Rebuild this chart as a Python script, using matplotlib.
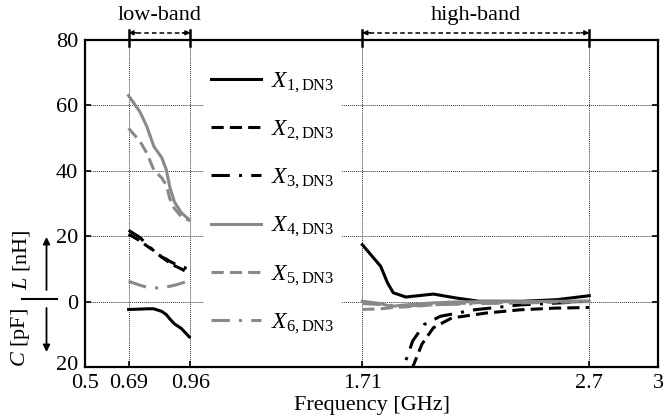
import matplotlib
matplotlib.use("Agg")
import matplotlib.pyplot as plt
import matplotlib.transforms as mtransforms
from matplotlib.lines import Line2D
from matplotlib.patches import FancyArrowPatch

plt.rcParams['font.family'] = ['Liberation Serif', 'DejaVu Serif']
plt.rcParams['mathtext.fontset'] = 'custom'
plt.rcParams['mathtext.rm'] = 'Liberation Serif'
plt.rcParams['mathtext.it'] = 'Liberation Serif:italic'

# ---- data: reactance-equivalent C / L values (L positive, C negative) ----
f_low = [0.69, 0.74, 0.77, 0.80, 0.835, 0.855, 0.87, 0.89, 0.92, 0.955]
x1_low = [-2.4, -2.3, -2.2, -2.2, -3.0, -4.0, -5.3, -6.8, -8.2, -10.8]
x2_low = [20.6, 18.6, 17.0, 15.6, 13.6, 12.6, 11.8, 11.0, 10.0, 8.6]
x3_low = [21.8, 19.6, 17.4, 15.6, 13.6, 13.0, 12.3, 11.6, 10.8, 9.8]
x4_low = [63.0, 58.0, 53.5, 47.5, 44.0, 40.3, 35.0, 30.5, 27.2, 25.0]
x5_low = [53.0, 49.0, 45.4, 40.3, 37.8, 35.6, 31.5, 28.5, 26.0, 24.8]
x6_low = [6.2, 5.0, 4.4, 4.2, 4.2, 4.4, 4.7, 5.0, 5.6, 6.4]

f_high = [1.71, 1.79, 1.82, 1.845, 1.90, 2.02, 2.12, 2.22, 2.41, 2.56, 2.70]
x1_high = [17.4, 10.8, 5.7, 2.7, 1.4, 2.3, 1.1, 0.1, 0.1, 0.6, 1.8]
x4_high = [0.1, -0.6, -1.2, -1.4, -1.0, -0.4, -0.1, 0.0, 0.0, 0.1, 0.2]
x5_high = [-2.4, -2.2, -2.0, -1.8, -1.6, -1.0, -0.6, -0.3, -0.2, -0.1, 0.0]
x6_high = [-0.6, -0.9, -1.1, -1.2, -1.3, -1.0, -0.8, -0.6, -0.4, -0.2, 0.0]

f_x2_high = [1.91, 1.93, 1.97, 2.02, 2.10, 2.25, 2.40, 2.55, 2.70]
x2_high = [-26.0, -20.0, -13.0, -8.0, -5.0, -3.5, -2.5, -2.0, -1.8]
f_x3_high = [1.87, 1.89, 1.93, 1.98, 2.05, 2.20, 2.40, 2.60, 2.70]
x3_high = [-26.0, -20.0, -12.0, -7.0, -4.5, -2.5, -1.0, -0.3, 0.2]

labels = [r'$X_{\mathrm{1,DN3}}$', r'$X_{\mathrm{2,DN3}}$', r'$X_{\mathrm{3,DN3}}$',
          r'$X_{\mathrm{4,DN3}}$', r'$X_{\mathrm{5,DN3}}$', r'$X_{\mathrm{6,DN3}}$']
xticks = [0.5, 0.69, 0.96, 1.71, 2.7, 3]
xtick_labels = ['0.5', '0.69', '0.96', '1.71', '2.7', '3']
yticks = [-20, 0, 20, 40, 60, 80]
ytick_labels = ['20', '0', '20', '40', '60', '80']

gray = '#898989'
dash = (0, (4, 2))
dashdot = (0, (6, 3, 1, 3))
styles = [dict(color='black', ls='-'), dict(color='black', ls=dash),
          dict(color='black', ls=dashdot), dict(color=gray, ls='-'),
          dict(color=gray, ls=dash), dict(color=gray, ls=dashdot)]
lw = 2.2
fs = 16

fig = plt.figure(figsize=(6.64, 4.2), dpi=100)
ax = fig.add_axes([85 / 664, 1 - 367 / 420, (658 - 85) / 664, (367 - 40) / 420])

low = [x1_low, x2_low, x3_low, x4_low, x5_low, x6_low]
for vals, st in zip(low, styles):
    ax.plot(f_low, vals, lw=lw, **st)

ax.plot(f_high, x1_high, lw=lw, **styles[0])
ax.plot(f_x2_high, x2_high, lw=lw, **styles[1])
ax.plot(f_x3_high, x3_high, lw=lw, **styles[2])
ax.plot(f_high, x4_high, lw=lw, **styles[3])
ax.plot(f_high, x5_high, lw=lw, **styles[4])
ax.plot(f_high, x6_high, lw=lw, **styles[5])

ax.set_xlim(0.5, 3)
ax.set_ylim(-20, 80)
ax.set_xticks(xticks)
ax.set_xticklabels(xtick_labels)
ax.set_yticks(yticks)
ax.set_yticklabels(ytick_labels)
ax.tick_params(direction='in', labelsize=fs, length=4, width=1.2, right=True, top=False)
ax.tick_params(axis='x', pad=5)
ax.tick_params(axis='y', pad=5)
for s in ax.spines.values():
    s.set_linewidth(1.6)
ax.grid(True, ls=(0, (1, 1)), color='#333333', lw=0.7)
ax.set_xlabel('Frequency [GHz]', fontsize=fs, labelpad=2)

# lift the lowest y label slightly so it sits clear of the "0.5" label
bottom_lbl = ax.get_yticklabels()[0]
bottom_lbl.set_transform(bottom_lbl.get_transform() +
                         mtransforms.ScaledTranslation(0, 4 / 100, fig.dpi_scale_trans))

handles = [Line2D([], [], lw=lw, **st) for st in styles]
leg = ax.legend(handles, labels, loc='upper left', bbox_to_anchor=(0.187, 0.965),
                frameon=True, fancybox=False, framealpha=1, edgecolor='none',
                facecolor='white', fontsize=17, handlelength=2.1,
                labelspacing=1.02, handletextpad=0.45, borderpad=0.3)

# band markers above the plot
def band(x0, x1, text):
    yb = 82.2
    ax.plot([x0, x1], [yb, yb], color='black', lw=1.1, ls=(0, (3, 2)), clip_on=False)
    for xv in (x0, x1):
        ax.plot([xv, xv], [78.3, 83.2], color='black', lw=1.8, clip_on=False)
    d = 0.035
    ax.annotate('', xy=(x0, yb), xytext=(x0 + d, yb), annotation_clip=False,
                arrowprops=dict(arrowstyle='-|>', lw=1.0, color='black',
                                mutation_scale=7, shrinkA=0, shrinkB=0))
    ax.annotate('', xy=(x1, yb), xytext=(x1 - d, yb), annotation_clip=False,
                arrowprops=dict(arrowstyle='-|>', lw=1.0, color='black',
                                mutation_scale=7, shrinkA=0, shrinkB=0))
    ax.text((x0 + x1) / 2, 87.5, text, ha='center', va='center', fontsize=fs)

band(0.69, 0.96, 'low-band')
band(1.71, 2.7, 'high-band')

# composite y-axis label: L upward, C downward
def fx(px):
    return px / 664

def fy(py):
    return 1 - py / 420

fig.text(fx(21), fy(260), r'$L$ [nH]', rotation=90, ha='center', va='center', fontsize=fs)
fig.text(fx(21), fy(337), r'$C$ [pF]', rotation=90, ha='center', va='center', fontsize=fs)
fig.add_artist(Line2D([fx(22), fx(57)], [fy(299), fy(299)], color='black', lw=1.5))
fig.add_artist(FancyArrowPatch(
    (fx(46.5), fy(290)), (fx(46.5), fy(237)), transform=fig.transFigure,
    arrowstyle='-|>', mutation_scale=10, lw=1.3, color='black', shrinkA=0, shrinkB=0))
fig.add_artist(FancyArrowPatch(
    (fx(46.5), fy(308)), (fx(46.5), fy(352)), transform=fig.transFigure,
    arrowstyle='-|>', mutation_scale=10, lw=1.3, color='black', shrinkA=0, shrinkB=0))

fig.savefig('out.png', dpi=100)
